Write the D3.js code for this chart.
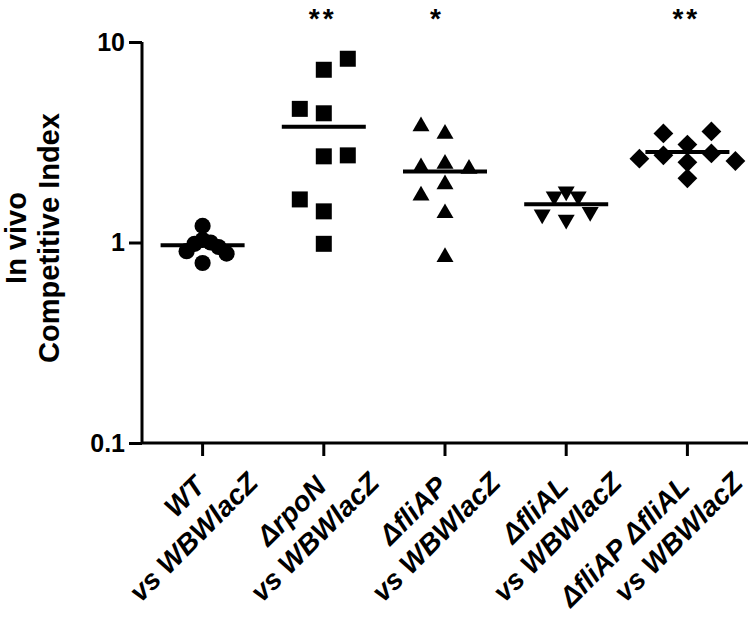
<!DOCTYPE html>
<html><head><meta charset="utf-8">
<script src="https://cdn.jsdelivr.net/npm/d3@7"></script>
<style>body{margin:0;background:#fff}svg{display:block}</style>
</head><body>
<svg id="chart" width="750" height="619"></svg>
<script>
// ---- data ----
const categories = ["WT", "\u0394rpoN", "\u0394fliAP", "\u0394fliAL", "\u0394fliAP \u0394fliAL"];
const comparisonLabel = "vs WBWlacZ";
const wtValues     = [1.21, 0.79, 1.03, 1.00, 0.985, 0.95, 0.905, 0.88];
const rpoNValues   = [7.27, 8.25, 4.41, 4.64, 2.69, 2.72, 1.43, 1.64, 0.985];
const fliAPValues  = [2.47, 2.33, 3.48, 3.80, 2.37, 1.95, 1.715, 1.40, 0.845];
const fliALValues  = [1.80, 1.70, 1.70, 1.30, 1.42, 1.38];
const doubleValues = [3.08, 2.09, 3.58, 3.50, 2.78, 2.72, 2.51, 2.55, 2.62];
const significance = ["", "**", "*", "", "**"];
const yTicks = [0.1, 1, 10];
const yTitle = ["In vivo", "Competitive Index"];

const seriesValues = [wtValues, rpoNValues, fliAPValues, fliALValues, doubleValues];

// ---- layout ----
const svg = d3.select("#chart");
const margin = {left: 142, right: 2, top: 42, bottom: 176};
const W = 750, H = 619;
const x = d3.scaleBand().domain(categories).range([margin.left, W - margin.right]);
const y = d3.scaleLog().domain([0.1, 10]).range([H - margin.bottom, margin.top]);
const axisY = H - margin.bottom;

const shapes = [
  {type: d3.symbolCircle, size: 205, rot: 0},
  {type: d3.symbolSquare, size: 256, rot: 0},
  {type: d3.symbolTriangle, size: 125, rot: 0},
  {type: d3.symbolTriangle, size: 125, rot: 180},
  {type: d3.symbolSquare, size: 196, rot: 45}
];
const swarmParams = [
  {step: 8, cw: 7.9, ch: 12},
  {step: 24, cw: 17, ch: 16},
  {step: 24, cw: 17, ch: 16},
  {step: 12, cw: 11.9, ch: 20},
  {step: 12, cw: 20, ch: 14}
];

function swarm(vals, p) {
  const placed = [];
  let toggle = 1;
  return vals.map(v => {
    const py = y(v);
    const ok = dx => placed.every(q => !(Math.abs(q.dx - dx) < p.cw && Math.abs(q.py - py) < p.ch));
    let dx = 0;
    if (!ok(0)) {
      for (let k = 1; k < 30; k++) {
        const c1 = toggle * k * p.step, c2 = -toggle * k * p.step;
        if (ok(c1)) { dx = c1; break; }
        if (ok(c2)) { dx = c2; break; }
      }
      toggle = -toggle;
    }
    const pt = {v, dx, py};
    placed.push(pt);
    return pt;
  });
}

const font = "'Liberation Sans', Arial, sans-serif";

// y axis
const yAxis = d3.axisLeft(y).tickValues(yTicks).tickFormat(d => String(d)).tickSize(13).tickPadding(4);
const gy = svg.append("g").attr("transform", `translate(${margin.left},0)`).call(yAxis);
gy.select(".domain").attr("stroke", "#000").attr("stroke-width", 3).attr("d", `M0,${y(10)}V${y(0.1)}`);
gy.selectAll(".tick line").attr("stroke", "#000").attr("stroke-width", 3);
gy.selectAll(".tick text").attr("fill", "#000")
  .style("font-family", font).style("font-weight", "bold").style("font-size", "25px");

// x axis
const xAxis = d3.axisBottom(x).tickSize(13).tickFormat(() => "");
const gx = svg.append("g").attr("transform", `translate(0,${axisY})`).call(xAxis);
gx.select(".domain").attr("stroke", "#000").attr("stroke-width", 3)
  .attr("d", `M${margin.left},0H${W - margin.right}`);
gx.selectAll(".tick line").attr("stroke", "#000").attr("stroke-width", 3);

// x labels (rotated, right-aligned)
categories.forEach((c, i) => {
  const cx = x(c) + x.bandwidth() / 2;
  const g = svg.append("g")
    .attr("transform", `translate(${cx + 4},${axisY + 45}) rotate(-45)`)
    .style("font-family", font).style("font-weight", "bold")
    .style("font-style", "italic").style("font-size", "28px").attr("fill", "#000");
  g.append("text").attr("text-anchor", "end").attr("x", 0).attr("y", 0).text(c);
  g.append("text").attr("text-anchor", "end").attr("x", 40).attr("y", 35).text(comparisonLabel);
});

// y title
const yt = svg.append("text")
  .attr("transform", `translate(26,238) rotate(-90)`)
  .attr("text-anchor", "middle")
  .style("font-family", font).style("font-weight", "bold").style("font-size", "29px")
  .attr("fill", "#000");
yt.append("tspan").attr("x", 0).attr("y", 0).text(yTitle[0]);
yt.append("tspan").attr("x", 0).attr("y", 33).text(yTitle[1]);

// points, means, stars
seriesValues.forEach((vals, i) => {
  const cx = x(categories[i]) + x.bandwidth() / 2;
  const pts = swarm(vals, swarmParams[i]);
  const s = shapes[i];
  const sym = d3.symbol().type(s.type).size(s.size);
  svg.append("g").selectAll("path").data(pts).join("path")
    .attr("d", sym)
    .attr("transform", d => `translate(${cx + d.dx},${d.py}) rotate(${s.rot})`)
    .attr("fill", "#000");
  const m = d3.mean(vals);
  svg.append("line")
    .attr("x1", cx - 42).attr("x2", cx + 42)
    .attr("y1", y(m)).attr("y2", y(m))
    .attr("stroke", "#000").attr("stroke-width", 4);
  if (significance[i]) {
    svg.append("text")
      .attr("x", cx - 15).attr("y", 28)
      .attr("text-anchor", "start")
      .style("font-family", font).style("font-weight", "bold").style("font-size", "28px")
      .style("letter-spacing", "3px")
      .attr("fill", "#000").text(significance[i]);
  }
});
</script>
</body></html>
